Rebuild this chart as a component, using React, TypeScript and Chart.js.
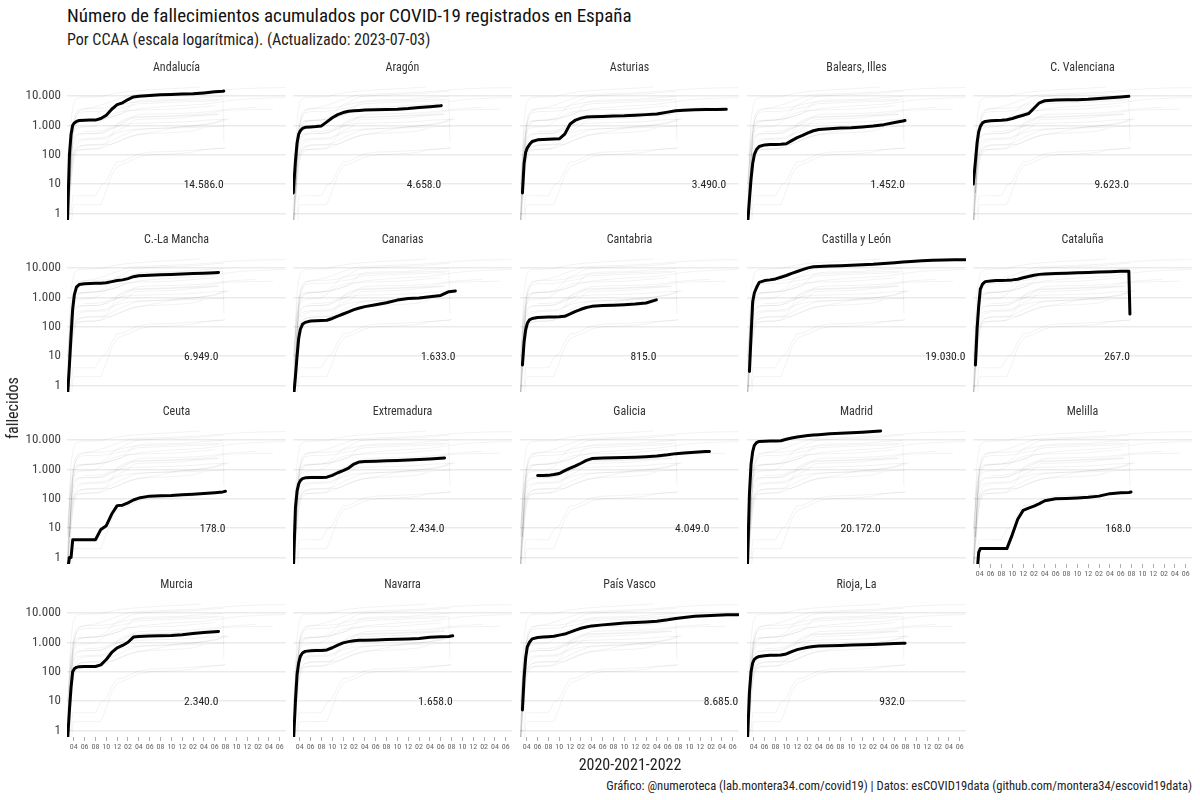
import React, { useEffect, useRef } from "react";
import { Chart, registerables } from "chart.js";
Chart.register(...registerables);

const FONT = "'Roboto Condensed', 'Liberation Sans Narrow', 'DejaVu Sans Condensed', Roboto, 'Noto Sans', sans-serif";

const TITLE = "Número de fallecimientos acumulados por COVID-19 registrados en España";
const SUBTITLE = "Por CCAA (escala logarítmica). (Actualizado: 2023-07-03)";
const Y_TITLE = "fallecidos";
const X_TITLE = "2020-2021-2022";
const CAPTION = "Gráfico: @numeroteca (lab.montera34.com/covid19) | Datos: esCOVID19data (github.com/montera34/escovid19data)";

const REGIONS = [
  "Andalucía", "Aragón", "Asturias", "Balears, Illes", "C. Valenciana",
  "C.-La Mancha", "Canarias", "Cantabria", "Castilla y León", "Cataluña",
  "Ceuta", "Extremadura", "Galicia", "Madrid", "Melilla",
  "Murcia", "Navarra", "País Vasco", "Rioja, La",
];

// sample dates, in months since 2020-01-01
const GRID_MONTHS = [1.8, 2.2, 2.5, 2.8, 3.1, 3.5, 4, 5, 6, 7, 8, 9, 10, 11, 12, 13, 14, 15, 17, 19, 21, 23, 25, 27, 29, 30.5, 32, 34, 36, 38, 40];

const andalucia = [0.3, 100, 500, 1000, 1200, 1350, 1450, 1480, 1500, 1500, 1700, 2200, 3500, 5000, 5800, 7500, 9200, 9700, 10300, 10800, 11200, 11500, 11700, 12600, 13700, 14300];
const aragon = [5, 60, 250, 500, 650, 780, 850, 880, 900, 950, 1300, 1800, 2300, 2700, 3000, 3100, 3200, 3300, 3350, 3450, 3500, 3700, 4000, 4300, 4600];
const asturias = [null, 5, 50, 120, 170, 220, 280, 320, 330, 335, 340, 345, 500, 1100, 1500, 1750, 1900, 1950, 2000, 2050, 2100, 2200, 2300, 2400, 2800, 3100, 3250, 3350, 3420, 3460];
const baleares = [0.3, 3, 15, 50, 100, 150, 190, 215, 220, 222, 225, 235, 300, 380, 450, 550, 650, 720, 760, 800, 830, 880, 950, 1050, 1250, 1400];
const valenciana = [10, 60, 250, 600, 900, 1200, 1350, 1420, 1450, 1480, 1550, 1700, 1950, 2200, 2500, 3800, 5800, 6800, 7200, 7300, 7400, 7600, 8200, 8700, 9200];
const laMancha = [0.3, 5, 50, 400, 1200, 2200, 2700, 2900, 2950, 2970, 3000, 3100, 3400, 3700, 3900, 4300, 5000, 5400, 5600, 5800, 6000, 6200, 6400, 6600, 6850];
const canarias = [0.3, 2, 10, 40, 80, 120, 140, 155, 160, 162, 165, 190, 230, 270, 320, 380, 430, 480, 560, 650, 800, 900, 950, 1050, 1150, 1550];
const cantabria = [null, 5, 30, 80, 130, 170, 190, 205, 210, 212, 214, 216, 225, 270, 330, 390, 450, 490, 520, 540, 560, 590, 640];
const castillaLeon = [null, 3, 50, 700, 1400, 2100, 3200, 3700, 3900, 4200, 4800, 5500, 6500, 7500, 8700, 10000, 10900, 11100, 11500, 11900, 12300, 12700, 13200, 14000, 15000, 15800, 16600, 17400, 18100, 18600, 18900];
const cataluna = [null, 5, 80, 500, 1900, 2800, 3400, 3600, 3700, 3750, 3800, 3900, 4100, 4600, 5100, 5600, 6000, 6200, 6400, 6600, 6800, 7000, 7200, 7400, 7600, 7700];
const ceuta = [0.3, 1, 1, 4, 4, 4, 4, 4, 4, 4, 9, 12, 30, 58, 60, 72, 90, 105, 122, 125, 128, 135, 142, 150, 160, 170];
const extremadura = [0.3, 50, 180, 320, 410, 480, 510, 520, 520, 525, 540, 620, 760, 900, 1100, 1500, 1780, 1820, 1880, 1950, 2000, 2080, 2150, 2250, 2380];
const galicia = [null, null, null, null, null, null, null, 610, 615, 620, 660, 720, 900, 1100, 1300, 1600, 2000, 2300, 2400, 2450, 2500, 2550, 2650, 2800, 3100, 3400, 3600, 3800, 4000];
const madrid = [0.3, 150, 1500, 4000, 6500, 8000, 8800, 9000, 9100, 9150, 9300, 10500, 11500, 12500, 13300, 14000, 14600, 15000, 16000, 16800, 17500, 18300, 19300];
const melilla = [0.3, 0.3, 0.3, 1.5, 2, 2, 2, 2, 2, 2, 2, 6, 20, 40, 48, 56, 68, 85, 100, 102, 106, 112, 122, 148, 158, 162];
const murcia = [0.3, 5, 30, 100, 125, 140, 148, 150, 150, 150, 170, 260, 450, 650, 780, 1000, 1500, 1580, 1620, 1650, 1700, 1800, 2000, 2150, 2280];
const navarra = [0.3, 10, 80, 200, 330, 430, 490, 510, 520, 525, 550, 650, 800, 950, 1050, 1120, 1160, 1180, 1200, 1230, 1260, 1300, 1350, 1480, 1540, 1570];
const paisVasco = [null, 5, 60, 300, 700, 1000, 1300, 1450, 1500, 1550, 1600, 1750, 1900, 2200, 2600, 3000, 3300, 3600, 3900, 4200, 4500, 4700, 4900, 5200, 5800, 6400, 7000, 7600, 8000, 8300, 8550];
const rioja = [0.3, 20, 100, 200, 260, 300, 330, 350, 360, 365, 370, 400, 480, 560, 620, 680, 720, 740, 760, 780, 800, 820, 840, 870, 910, 925];

// last date (months since 2020-01-01) and last value of each region
const END_MONTH = [30.67, 29.1, 39.8, 30.9, 30.5, 29.7, 31.7, 26.9, 42.05, 30.7, 30.98, 29.7, 36.7, 26.4, 30.9, 29.7, 31.2, 42.0, 30.9];
const LAST_VALUE = [14586, 4658, 3490, 1452, 9623, 6949, 1633, 815, 19030, 267, 178, 2434, 4049, 20172, 168, 2340, 1658, 8685, 932];

const VALUES = [andalucia, aragon, asturias, baleares, valenciana, laMancha, canarias, cantabria, castillaLeon, cataluna, ceuta, extremadura, galicia, madrid, melilla, murcia, navarra, paisVasco, rioja];

const X_TICKS = [3, 5, 7, 9, 11, 13, 15, 17, 19, 21, 23, 25, 27, 29, 31, 33, 35, 37, 39, 41];
const Y_TICKS = [1, 10, 100, 1000, 10000];

const X_MIN = 1.75, X_MAX = 42.15, Y_MIN = 0.61, Y_MAX = 32000;

// layout
const COLS = 5;
const PANEL_LEFT0 = 66.7, PANEL_STEP_X = 226.65, PANEL_W = 219;
const PANEL_TOP0 = 80.7, PANEL_STEP_Y = 172.3, PANEL_H = 139;
const Y_AXIS_W = 60, TITLE_H = 24, X_AXIS_H = 20;

function fmtThousands(v: number): string {
  return Math.round(v).toString().replace(/\B(?=(\d{3})+(?!\d))/g, ".");
}

function series(i: number) {
  const vals = VALUES[i] as (number | null)[];
  const end = END_MONTH[i];
  const pts: { x: number; y: number }[] = [];
  GRID_MONTHS.forEach((m, k) => {
    const v = vals[k];
    if (v != null && m < end - 0.05) pts.push({ x: m, y: v });
  });
  pts.push({ x: end, y: LAST_VALUE[i] });
  return pts;
}

const endLabelPlugin = {
  id: "endLabel",
  afterDatasetsDraw(chart: any, _args: any, opts: any) {
    const i = opts.index;
    const { ctx, scales } = chart;
    const x = scales.x.getPixelForValue(END_MONTH[i]);
    const y = scales.y.getPixelForValue(10);
    ctx.save();
    ctx.font = `11.5px ${FONT}`;
    ctx.fillStyle = "#222";
    ctx.textAlign = "right";
    ctx.textBaseline = "middle";
    ctx.fillText(fmtThousands(LAST_VALUE[i]) + ".0", x, y + 1);
    ctx.restore();
  },
};

function Panel({ index }: { index: number }) {
  const ref = useRef<HTMLCanvasElement | null>(null);
  const col = index % COLS;
  const row = Math.floor(index / COLS);
  const showY = col === 0;
  const showX = row === 3 || index === 14;
  const left = PANEL_LEFT0 + PANEL_STEP_X * col - Y_AXIS_W;
  const top = PANEL_TOP0 + PANEL_STEP_Y * row - TITLE_H;
  const width = Y_AXIS_W + PANEL_W;
  const height = TITLE_H + PANEL_H + X_AXIS_H;

  useEffect(() => {
    if (!ref.current) return;
    Chart.defaults.font.family = FONT;
    const datasets: any[] = [
      {
        data: series(index),
        borderColor: "#000",
        borderWidth: 3,
        pointRadius: 0,
        order: 0,
        clip: 0,
        borderCapStyle: "round",
        borderJoinStyle: "round",
      },
    ];
    REGIONS.forEach((_r, j) => {
      datasets.push({
        data: series(j),
        borderColor: "rgba(0,0,0,0.085)",
        borderWidth: 0.6,
        pointRadius: 0,
        order: 1,
        clip: 0,
      });
    });
    const chart = new Chart(ref.current, {
      type: "line",
      data: { datasets },
      plugins: [endLabelPlugin],
      options: {
        animation: false,
        responsive: false,
        events: [],
        layout: { padding: 0 },
        plugins: {
          legend: { display: false },
          tooltip: { enabled: false },
          title: {
            display: true,
            text: REGIONS[index],
            color: "#333",
            fullSize: false,
            font: { size: 12, weight: "normal", family: FONT, lineHeight: 1.2 },
            padding: { top: 4, bottom: 5.6 },
          },
          endLabel: { index },
        } as any,
        scales: {
          x: {
            type: "linear",
            min: X_MIN,
            max: X_MAX,
            afterBuildTicks: (s: any) => {
              s.ticks = X_TICKS.map((value) => ({ value }));
            },
            afterFit: (s: any) => {
              s.height = X_AXIS_H;
              s.paddingLeft = 0;
              s.paddingRight = 0;
            },
            border: { display: false },
            grid: {
              display: showX,
              drawOnChartArea: false,
              drawTicks: true,
              tickLength: 4,
              color: "#999",
              lineWidth: 0.8,
            },
            ticks: {
              display: showX,
              autoSkip: false,
              maxRotation: 0,
              minRotation: 0,
              padding: 1,
              color: "#666",
              font: { size: 8, family: FONT },
              callback: (v: any) => {
                const m = (Math.round(Number(v)) % 12) + 1;
                return (m < 10 ? "0" : "") + m;
              },
            },
          },
          y: {
            type: "logarithmic",
            min: Y_MIN,
            max: Y_MAX,
            afterBuildTicks: (s: any) => {
              s.ticks = Y_TICKS.map((value) => ({ value }));
            },
            afterFit: (s: any) => {
              s.width = Y_AXIS_W;
              s.paddingTop = 0;
              s.paddingBottom = 0;
            },
            border: { display: false },
            grid: { display: true, drawTicks: false, color: "#ebebeb", lineWidth: 1.4 },
            ticks: {
              display: showY,
              padding: 6,
              color: "#444",
              font: { size: 13, family: FONT },
              callback: (v: any) => fmtThousands(Number(v)),
            },
          },
        },
      } as any,
    });
    return () => chart.destroy();
  }, [index]);

  return (
    <canvas
      ref={ref}
      width={width}
      height={height}
      style={{ position: "absolute", left, top, width, height }}
    />
  );
}

export default function App() {
  return (
    <div
      style={{
        position: "absolute",
        left: 0,
        top: 0,
        width: 1200,
        height: 800,
        background: "#fff",
        fontFamily: FONT,
        color: "#111",
        overflow: "hidden",
      }}
    >
      <div style={{ position: "absolute", left: 67, top: 5, fontSize: 19, lineHeight: "21px", whiteSpace: "nowrap" }}>{TITLE}</div>
      <div style={{ position: "absolute", left: 67, top: 30, fontSize: 16, lineHeight: "19px", color: "#222", whiteSpace: "nowrap" }}>{SUBTITLE}</div>
      {REGIONS.map((_r, i) => (
        <Panel key={i} index={i} />
      ))}
      <div
        style={{
          position: "absolute",
          left: 13,
          top: 408,
          fontSize: 16,
          lineHeight: "18px",
          color: "#222",
          whiteSpace: "nowrap",
          transform: "translate(-50%, -50%) rotate(-90deg)",
        }}
      >
        {Y_TITLE}
      </div>
      <div
        style={{
          position: "absolute",
          left: 630,
          top: 765,
          fontSize: 16,
          lineHeight: "18px",
          color: "#222",
          whiteSpace: "nowrap",
          transform: "translate(-50%, -50%)",
        }}
      >
        {X_TITLE}
      </div>
      <div
        style={{
          position: "absolute",
          right: 8,
          top: 778,
          fontSize: 12.6,
          lineHeight: "15px",
          color: "#222",
          whiteSpace: "nowrap",
        }}
      >
        {CAPTION}
      </div>
    </div>
  );
}
